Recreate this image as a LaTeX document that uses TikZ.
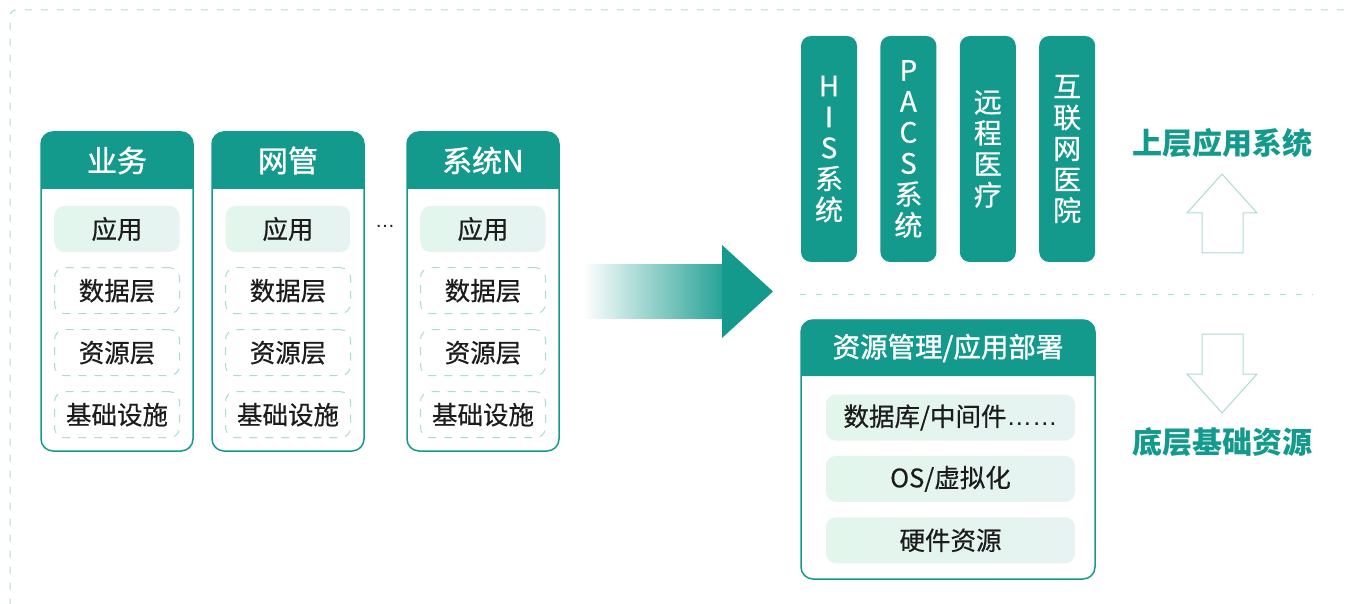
\documentclass[tikz,border=0pt]{standalone}
\usepackage{fontspec}
\setmainfont{Noto Sans CJK SC}
\newfontfamily\medfont[FakeBold=1.2]{Noto Sans CJK SC}
\newfontfamily\itemfont[FakeBold=0.5]{Noto Sans CJK SC}
\newfontfamily\latinfont{Liberation Sans}
\usetikzlibrary{positioning}
\definecolor{tealMain}{RGB}{19,154,140}
\definecolor{tealLight}{RGB}{172,218,212}
\definecolor{appLeft}{RGB}{226,246,236}
\definecolor{appRight}{RGB}{231,243,242}
\definecolor{textDark}{RGB}{28,28,28}
\tikzset{column/.style={draw=tealMain, line width=1.5pt, fill=white, rounded corners=12pt, minimum width=152pt, minimum height=319pt, inner sep=0pt}}
\tikzset{layer/.style={rounded corners=10pt, minimum width=125pt, minimum height=46pt, inner sep=0pt, text=textDark, font=\itemfont\fontsize{25.5}{25.5}\selectfont}}
\tikzset{app/.style={layer, left color=appLeft, right color=appRight}}
\tikzset{dashlayer/.style={layer, draw=tealLight, line width=1pt, dash pattern=on 8pt off 8pt}}
\tikzset{title/.style={text=white, font=\medfont\fontsize{30}{30}\selectfont}}
\tikzset{sysbox/.style={fill=tealMain, rounded corners=10pt, minimum width=56pt, minimum height=226pt, inner sep=0pt, text=white, align=center, font=\itemfont\fontsize{28}{31}\selectfont}}
\tikzset{tier/.style={text=tealMain, font=\fontsize{30}{30}\selectfont\bfseries}}
\tikzset{hollow/.style={draw=tealLight, line width=1pt, fill=white}}

\begin{document}
\begin{tikzpicture}[x=1pt, y=-1pt, node distance=15pt and 23pt]
\clip (0,0) rectangle (1347,604);
% Frame
\draw[tealLight, line width=1pt, dash pattern=on 7pt off 9pt, rounded corners=6pt] (1360,10) -- (10,10) -- (10,620);

% Left columns
\foreach \n/\x/\t in {biz/41/业务, net/212/网管, sysn/407/系统N} {
  \node (\n) [column] at (\x+76,291.5) {};
  \fill[tealMain] (\x,189) [rounded corners=12pt] -- (\x,131.5) -- (\x+152,131.5) [sharp corners] -- (\x+152,189) -- cycle;
  \node (\n-title) [title] at (\x+76,160.5) {\t};
  \node (\n-app) [app] at (\x+76,229) {应用};
  \node (\n-data) [dashlayer, below=of \n-app] {数据层};
  \node (\n-res) [dashlayer, below=of \n-data] {资源层};
  \node (\n-infra) [dashlayer, below=of \n-res] {基础设施};
}
\node (more) [text=textDark, font=\latinfont\fontsize{20}{20}\selectfont] at (385,226) {…};

% Arrow
\shade[left color=white, right color=tealMain!92] (583,265) rectangle (723,318);
\fill[tealMain] (722,245) -- (773,291.5) -- (722,338) -- cycle;

% Upper systems
\node (his) [sysbox] at (829,149) {H\\I\\S\\系\\统};
\node (pacs) [sysbox, right=of his] {P\\A\\C\\S\\系\\统};
\node (remote) [sysbox, right=of pacs] {远\\程\\医\\疗};
\node (web) [sysbox, right=of remote] {互\\联\\网\\医\\院};

\coordinate (sepL) at (800,294);
\coordinate (sepR) at (1313,294);
\draw[tealLight, line width=1pt, dash pattern=on 6pt off 10pt] (sepL) -- (sepR);

% Lower resources
\node (deploy) [column, minimum width=294pt, minimum height=259pt] at (948,449.5) {};
\fill[tealMain] (801,376) [rounded corners=12pt] -- (801,319.5) -- (1095,319.5) [sharp corners] -- (1095,376) -- cycle;
\node (deploy-title) [title, font=\medfont\fontsize{27.5}{27.5}\selectfont] at (948,348) {资源管理/应用部署};
\node (db) [app, minimum width=249pt] at (950.5,417.5) {数据库/中间件{\latinfont……}};
\node (os) [app, minimum width=249pt, below=of db] {OS/虚拟化};
\node (hw) [app, minimum width=249pt, below=of os] {硬件资源};

% Tiers
\node (upper) [tier] at (1222,143) {上层应用系统};
\node (lower) [tier] at (1222,442) {底层基础资源};
\draw[hollow] (1222,174) -- (1257,213) -- (1243,213) -- (1243,253) -- (1202,253) -- (1202,213) -- (1187,213) -- cycle;
\draw[hollow] (1202,334) -- (1243,334) -- (1243,374) -- (1257,374) -- (1222,413) -- (1187,374) -- (1202,374) -- cycle;
\end{tikzpicture}
\end{document}
